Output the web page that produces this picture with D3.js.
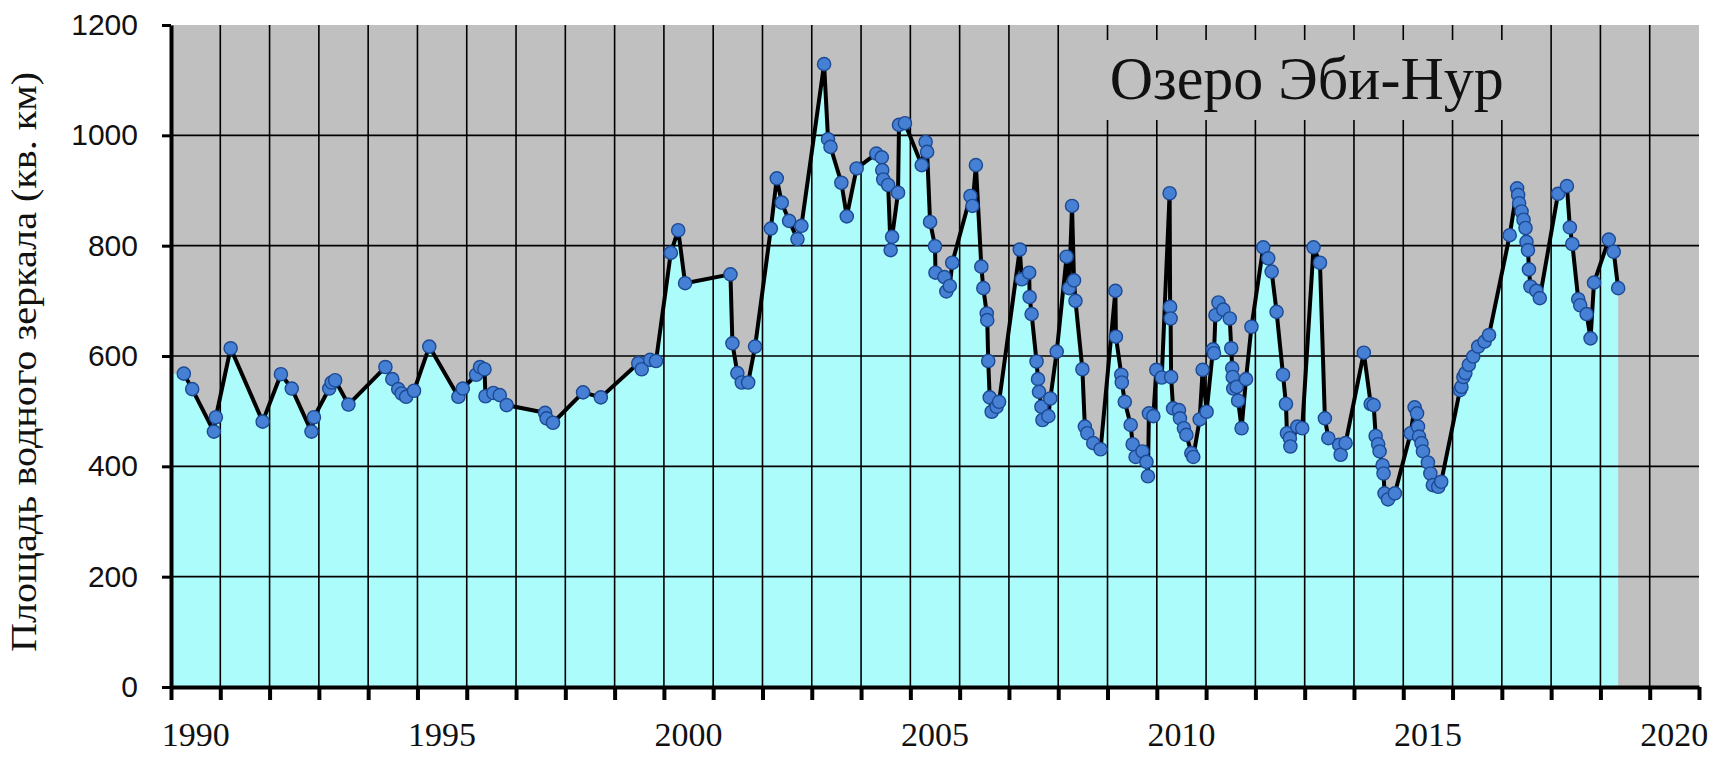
<!DOCTYPE html>
<html>
<head>
<meta charset="utf-8">
<script src="https://cdn.jsdelivr.net/npm/d3@7"></script>
<style>
  body { margin: 0; background: #ffffff; }
  svg { display: block; }
</style>
</head>
<body>
<svg id="chart" width="1730" height="758"></svg>
<script>
// Observation dates (decimal years)
const dates = [
  1990.26, 1990.43, 1990.87, 1990.91, 1991.21, 1991.86, 1992.23, 1992.45, 1992.85, 1992.90,
  1993.21, 1993.26, 1993.33, 1993.60, 1994.35, 1994.49, 1994.61, 1994.68, 1994.77, 1994.93,
  1995.24, 1995.83, 1995.92, 1996.19, 1996.27, 1996.36, 1996.38, 1996.54, 1996.67, 1996.81,
  1997.59, 1997.62, 1997.75, 1998.36, 1998.72, 1999.48, 1999.55, 1999.72, 1999.84,
  2000.14, 2000.29, 2000.43, 2001.35, 2001.39, 2001.49, 2001.58, 2001.71, 2001.85,
  2002.17, 2002.29, 2002.39, 2002.54, 2002.71, 2002.79,
  2003.25, 2003.33, 2003.38, 2003.60, 2003.71, 2003.91,
  2004.31, 2004.42, 2004.43, 2004.45, 2004.55, 2004.60, 2004.63, 2004.75, 2004.77, 2004.89,
  2005.23, 2005.31, 2005.34, 2005.40, 2005.50, 2005.51, 2005.69, 2005.73, 2005.80, 2005.85,
  2006.22, 2006.26, 2006.33, 2006.44, 2006.48, 2006.55, 2006.56, 2006.58, 2006.61, 2006.65,
  2006.75, 2006.80,
  2007.22, 2007.26, 2007.41, 2007.42, 2007.46, 2007.56, 2007.59, 2007.61, 2007.66, 2007.68,
  2007.80, 2007.84, 2007.97,
  2008.17, 2008.22, 2008.28, 2008.32, 2008.35, 2008.49, 2008.54, 2008.59, 2008.71, 2008.86,
  2009.16, 2009.17, 2009.28, 2009.29, 2009.35, 2009.47, 2009.51, 2009.57, 2009.71, 2009.79,
  2009.82, 2009.84, 2009.93, 2009.99,
  2010.10, 2010.26, 2010.27, 2010.28, 2010.29, 2010.33, 2010.45, 2010.47, 2010.55, 2010.60,
  2010.70, 2010.74, 2010.87, 2010.93,
  2011.01, 2011.14, 2011.16, 2011.19, 2011.25, 2011.35, 2011.48, 2011.51, 2011.53, 2011.54,
  2011.55, 2011.62, 2011.65, 2011.72, 2011.81, 2011.92,
  2012.16, 2012.26, 2012.33, 2012.43, 2012.56, 2012.62, 2012.64, 2012.70, 2012.71, 2012.85,
  2012.95,
  2013.18, 2013.31, 2013.41, 2013.48, 2013.70, 2013.73, 2013.83,
  2014.20, 2014.34, 2014.40, 2014.44, 2014.49, 2014.52, 2014.58, 2014.60, 2014.62, 2014.69,
  2014.83,
  2015.15, 2015.23, 2015.28, 2015.30, 2015.32, 2015.37, 2015.40, 2015.50, 2015.55, 2015.60,
  2015.71, 2015.77,
  2016.15, 2016.18, 2016.22, 2016.26, 2016.33, 2016.42, 2016.52, 2016.65, 2016.74,
  2017.16, 2017.31, 2017.33, 2017.35, 2017.40, 2017.44, 2017.48, 2017.50, 2017.53, 2017.55,
  2017.58, 2017.70, 2017.77,
  2018.14, 2018.32, 2018.38, 2018.43, 2018.55, 2018.59, 2018.72, 2018.80, 2018.87,
  2019.17, 2019.27, 2019.36
];

// Water surface area, sq. km
const area = [
  568, 540, 463, 489, 614, 481, 567, 541, 463, 489,
  541, 552, 556, 512, 580, 558, 540, 532, 526, 537,
  617, 526, 541, 566, 580, 576, 527, 533, 529, 511,
  497, 487, 479, 534, 525, 587, 576, 593, 591,
  787, 828, 732, 748, 623, 569, 552, 552, 617,
  831, 922, 878, 845, 812, 836,
  1129, 993, 979, 914, 853, 940,
  967, 960, 937, 920, 910, 792, 816, 896, 1019, 1022,
  946, 988, 970, 843, 799, 751, 743, 717, 727, 769,
  890, 872, 946, 762, 723, 677, 665, 591, 525, 499,
  508, 517,
  793, 739, 751, 707, 676, 590, 558, 535, 508, 484,
  491, 523, 608,
  780, 723, 872, 737, 700, 576, 472, 460, 442, 431,
  718, 635, 566, 552, 517, 475, 440, 417, 427, 408,
  382, 496, 491, 575,
  561, 895, 689, 668, 562, 505, 502, 487, 469, 457,
  424, 417, 485, 575,
  499, 612, 605, 674, 697, 684, 668, 614, 578, 562,
  541, 544, 519, 469, 558, 653,
  797, 777, 753, 680, 566, 513, 460, 451, 436, 472,
  469,
  797, 769, 487, 451, 439, 421, 442,
  606, 513, 511, 455, 440, 427, 402, 387, 351, 340,
  351,
  460, 507, 496, 472, 454, 442, 427, 407, 387, 366,
  363, 372,
  538, 544, 562, 569, 584, 599, 617, 626, 638,
  819, 904, 892, 877, 862, 847, 832, 807, 792, 757,
  726, 718, 705,
  894, 908, 833, 803, 703, 692, 676, 632, 733,
  811, 789, 723
];

const yTickValues = [0, 200, 400, 600, 800, 1000, 1200];
const yearLabels = [1990, 1995, 2000, 2005, 2010, 2015, 2020];
const chartTitle = "Озеро Эби-Нур";
const yAxisTitle = "Площадь водного зеркала (кв. км)";

const svg = d3.select("#chart");

const x = d3.scaleLinear().domain([1990, 2021]).range([171, 1699]);
const y = d3.scaleLinear().domain([0, 1200]).range([687, 25]);

const data = dates.map((t, i) => ({ t, v: area[i] }));

// plot background
svg.append("rect")
  .attr("x", x(1990)).attr("y", y(1200))
  .attr("width", x(2021) - x(1990)).attr("height", y(0) - y(1200))
  .attr("fill", "#c0c0c0");

// filled area under the series (starts at the axis with the first value)
const areaData = [{ t: x.domain()[0], v: data[0].v }, ...data];
svg.append("path")
  .datum(areaData)
  .attr("d", d3.area().x(d => x(d.t)).y0(y(0)).y1(d => y(d.v)))
  .attr("fill", "#acfcfc");

// grid lines
const gridYears = d3.range(1991, 2021);
svg.append("g").selectAll("line").data(gridYears).join("line")
  .attr("x1", d => x(d)).attr("x2", d => x(d))
  .attr("y1", y(1200)).attr("y2", y(0))
  .attr("stroke", "#000").attr("stroke-width", 1.6);
svg.append("g").selectAll("line").data(yTickValues.filter(v => v > 0 && v < 1200)).join("line")
  .attr("x1", x(1990)).attr("x2", x(2021))
  .attr("y1", d => y(d)).attr("y2", d => y(d))
  .attr("stroke", "#000").attr("stroke-width", 1.6);

// title box
svg.append("rect")
  .attr("x", x(2008) + 2).attr("y", 40)
  .attr("width", x(2018) - x(2008) - 4).attr("height", 80)
  .attr("fill", "#c0c0c0");
svg.append("text")
  .attr("x", (x(2008) + x(2018)) / 2 + 2).attr("y", 99)
  .attr("text-anchor", "middle")
  .attr("font-family", "'Liberation Serif', 'Times New Roman', serif")
  .attr("font-size", 62)
  .attr("textLength", 394).attr("lengthAdjust", "spacingAndGlyphs")
  .attr("fill", "#111")
  .text(chartTitle);

// series line
svg.append("path")
  .datum(data)
  .attr("d", d3.line().x(d => x(d.t)).y(d => y(d.v)))
  .attr("fill", "none")
  .attr("stroke", "#000")
  .attr("stroke-width", 4)
  .attr("stroke-linejoin", "round");

// markers
svg.append("g").selectAll("circle").data(data).join("circle")
  .attr("cx", d => x(d.t)).attr("cy", d => y(d.v))
  .attr("r", 6.6)
  .attr("fill", "#4580d4")
  .attr("stroke", "#1d4a94")
  .attr("stroke-width", 1.4);

// x axis
const xAxis = svg.append("g")
  .attr("transform", `translate(0,${y(0)})`)
  .call(d3.axisBottom(x).tickValues(d3.range(1990, 2022)).tickSize(13).tickSizeOuter(0).tickFormat(""));
xAxis.select(".domain").attr("stroke", "#000").attr("stroke-width", 4);
xAxis.selectAll(".tick line").attr("stroke", "#000").attr("stroke-width", 4);

// year labels sit in the middle of their year interval
svg.append("g").selectAll("text").data(yearLabels).join("text")
  .attr("x", d => x(d + 0.5)).attr("y", 746)
  .attr("text-anchor", "middle")
  .attr("font-family", "'Liberation Serif', 'Times New Roman', serif")
  .attr("font-size", 34)
  .attr("fill", "#111")
  .text(d => d);

// y axis
const yAxis = svg.append("g")
  .attr("transform", `translate(${x(1990)},0)`)
  .call(d3.axisLeft(y).tickValues(yTickValues).tickFormat(d3.format("d"))
    .tickSize(9).tickSizeOuter(0).tickPadding(24));
yAxis.select(".domain").attr("stroke", "#000").attr("stroke-width", 4);
yAxis.selectAll(".tick line").attr("stroke", "#000").attr("stroke-width", 3);
yAxis.selectAll(".tick text")
  .attr("font-family", "'Liberation Sans', Arial, sans-serif")
  .attr("font-size", 30)
  .attr("fill", "#111");

// y axis title
svg.append("text")
  .attr("transform", "translate(36,362) rotate(-90)")
  .attr("text-anchor", "middle")
  .attr("font-family", "'Liberation Serif', 'Times New Roman', serif")
  .attr("font-size", 36)
  .attr("textLength", 580).attr("lengthAdjust", "spacingAndGlyphs")
  .attr("fill", "#111")
  .text(yAxisTitle);
</script>
</body>
</html>
